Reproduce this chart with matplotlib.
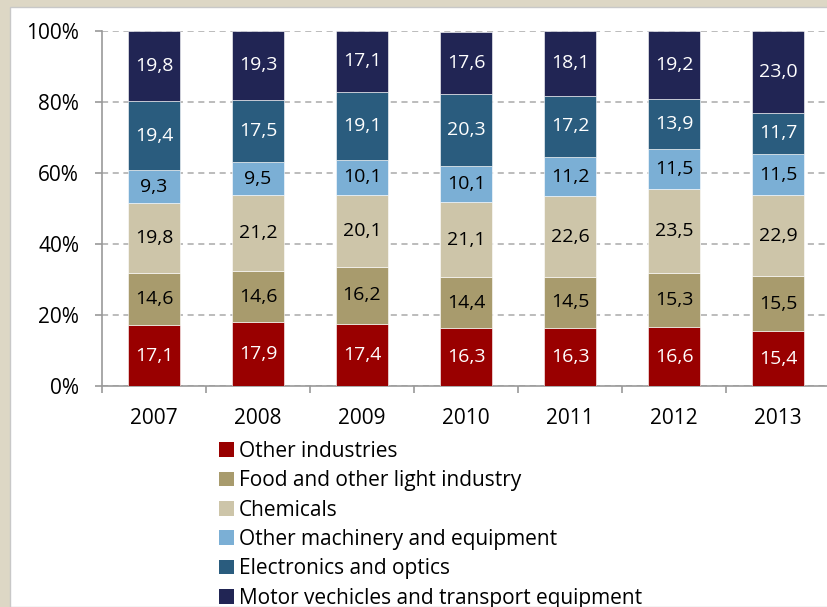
import numpy as np
import matplotlib.pyplot as plt
from matplotlib.patches import Rectangle, Patch

plt.rcParams['font.family'] = ['Open Sans', 'DejaVu Sans']

years = ['2007', '2008', '2009', '2010', '2011', '2012', '2013']
sectors = ['Other industries', 'Food and other light industry', 'Chemicals',
           'Other machinery and equipment', 'Electronics and optics',
           'Motor vechicles and transport equipment']

other_ind = [17.1, 17.9, 17.4, 16.3, 16.3, 16.6, 15.4]
food_light = [14.6, 14.6, 16.2, 14.4, 14.5, 15.3, 15.5]
chemicals = [19.8, 21.2, 20.1, 21.1, 22.6, 23.5, 22.9]
other_mach = [9.3, 9.5, 10.1, 10.1, 11.2, 11.5, 11.5]
electronics = [19.4, 17.5, 19.1, 20.3, 17.2, 13.9, 11.7]
motor = [19.8, 19.3, 17.1, 17.6, 18.1, 19.2, 23.0]

colors = ['#990000', '#a89b6d', '#cdc5a9', '#7bafd5', '#2a5c7e', '#212554']
text_colors = ['white', 'black', 'black', 'black', 'white', 'white']

series = [other_ind, food_light, chemicals, other_mach, electronics, motor]

fig = plt.figure(figsize=(8.27, 6.07), dpi=100)
fig.patch.set_facecolor('#ddd7c5')
fig.patches.append(Rectangle((10 / 827, 0), 1, 1 - 7 / 607, transform=fig.transFigure,
                             facecolor='white', edgecolor='#c8c8c8', lw=1, zorder=-10))

ax = fig.add_axes([102 / 827, 1 - 386 / 607, 728 / 827, 355 / 607])
ax.set_facecolor('none')

x = np.arange(len(years))
bottom = np.zeros(len(years))
for vals, col, tc in zip(series, colors, text_colors):
    vals = np.array(vals)
    ax.bar(x, vals, width=0.5, bottom=bottom, color=col, edgecolor='white',
           linewidth=0.4, zorder=3)
    for xi, b, v in zip(x, bottom, vals):
        ax.text(xi, b + v / 2, f'{v:.1f}'.replace('.', ','), ha='center', va='center',
                color=tc, fontsize=14, zorder=4)
    bottom += vals

ax.set_xlim(-0.5, len(years) - 0.5)
ax.set_ylim(0, 100)
ax.set_yticks([0, 20, 40, 60, 80, 100])
ax.set_yticklabels(['0%', '20%', '40%', '60%', '80%', '100%'])
ax.yaxis.grid(True, color='#aaaaaa', linestyle=(0, (4, 3)), linewidth=1.1, zorder=1)

ax.set_xticks(x)
ax.set_xticklabels(years)
ax.set_xticks(np.arange(len(years) + 1) - 0.5, minor=True)
ax.tick_params(axis='x', which='major', length=0, pad=16, labelsize=15)
ax.tick_params(axis='x', which='minor', length=5, color='#999999', width=1.2)
ax.tick_params(axis='y', length=5, color='#999999', width=1.2, pad=11.5, labelsize=15)

for side in ['top', 'right']:
    ax.spines[side].set_visible(False)
for side in ['left', 'bottom']:
    ax.spines[side].set_color('#999999')
    ax.spines[side].set_linewidth(1.2)

handles = [Patch(facecolor=c, edgecolor='none') for c in colors]
fig.legend(handles, sectors, loc='upper left', bbox_to_anchor=(219 / 827, 1 - 441 / 607),
           frameon=False, fontsize=15, handlelength=0.7, handleheight=0.7,
           handletextpad=0.24, labelspacing=0.40, borderaxespad=0, borderpad=0)

fig.savefig('out.png', dpi=100, facecolor=fig.get_facecolor())
